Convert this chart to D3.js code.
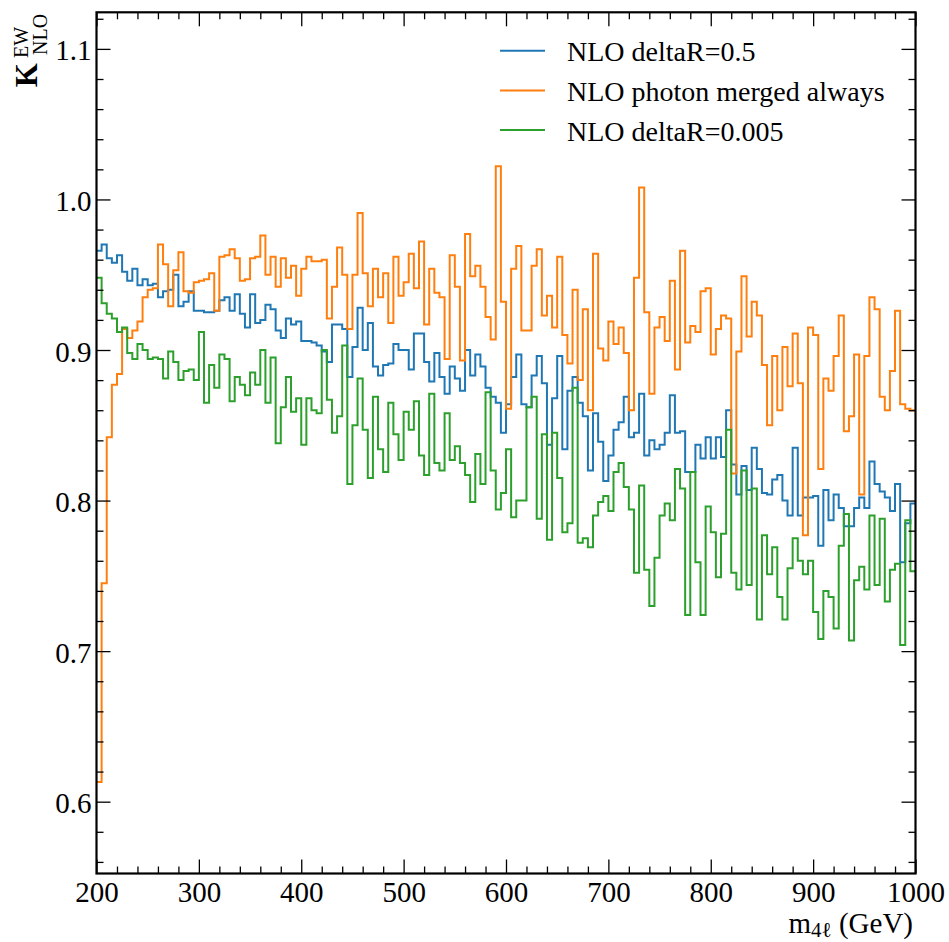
<!DOCTYPE html>
<html>
<head>
<meta charset="utf-8">
<script src="https://cdn.jsdelivr.net/npm/d3@7"></script>
<style>
  html, body { margin: 0; padding: 0; background: #fff; }
  svg { display: block; font-family: "Liberation Serif", "DejaVu Serif", serif; }
</style>
</head>
<body>
<svg id="chart" width="949" height="942"></svg>
<script>
// Binning: 160 bins of 5 GeV from 200 to 1000 GeV
const binStart = 200;
const binWidth = 5;

// K_NLO^EW per bin, NLO deltaR=0.5
const deltaR05 = [
  0.966, 0.970, 0.961, 0.958, 0.963, 0.952, 0.946, 0.954, 0.943, 0.947,
  0.943, 0.944, 0.935, 0.939, 0.940, 0.950, 0.929, 0.932, 0.939, 0.926,
  0.926, 0.925, 0.925, 0.926, 0.933, 0.935, 0.926, 0.937, 0.924, 0.915,
  0.937, 0.918, 0.920, 0.930, 0.927, 0.913, 0.908, 0.921, 0.917, 0.919,
  0.906, 0.906, 0.905, 0.903, 0.899, 0.892, 0.917, 0.917, 0.914, 0.882,
  0.902, 0.928, 0.900, 0.918, 0.889, 0.883, 0.890, 0.891, 0.904, 0.900,
  0.900, 0.887, 0.911, 0.911, 0.892, 0.879, 0.898, 0.882, 0.871, 0.889,
  0.881, 0.873, 0.900, 0.883, 0.897, 0.889, 0.875, 0.869, 0.865, 0.845,
  0.864, 0.882, 0.897, 0.864, 0.862, 0.883, 0.896, 0.878, 0.837, 0.868,
  0.896, 0.834, 0.873, 0.882, 0.865, 0.856, 0.820, 0.858, 0.839, 0.813,
  0.830, 0.847, 0.852, 0.869, 0.842, 0.845, 0.871, 0.830, 0.840, 0.834,
  0.837, 0.845, 0.870, 0.845, 0.846, 0.819, 0.819, 0.837, 0.828, 0.842,
  0.828, 0.842, 0.829, 0.860, 0.824, 0.804, 0.823, 0.807, 0.835, 0.821,
  0.805, 0.804, 0.814, 0.817, 0.800, 0.790, 0.835, 0.790, 0.802, 0.802,
  0.803, 0.770, 0.807, 0.787, 0.804, 0.795, 0.783, 0.783, 0.795, 0.802,
  0.795, 0.826, 0.811, 0.806, 0.802, 0.793, 0.811, 0.759, 0.785, 0.798
];

// K_NLO^EW per bin, NLO with the photon always merged
const photonMerged = [
  0.613, 0.745, 0.842, 0.877, 0.884, 0.914, 0.908, 0.913, 0.919, 0.935,
  0.940, 0.941, 0.970, 0.957, 0.929, 0.953, 0.965, 0.939, 0.938, 0.945,
  0.946, 0.947, 0.951, 0.926, 0.962, 0.963, 0.967, 0.961, 0.946, 0.947,
  0.961, 0.962, 0.976, 0.950, 0.962, 0.942, 0.961, 0.948, 0.956, 0.936,
  0.954, 0.962, 0.959, 0.959, 0.960, 0.921, 0.942, 0.968, 0.950, 0.914,
  0.950, 0.991, 0.951, 0.929, 0.954, 0.935, 0.951, 0.918, 0.962, 0.936,
  0.945, 0.964, 0.941, 0.972, 0.917, 0.954, 0.938, 0.935, 0.894, 0.963,
  0.942, 0.893, 0.977, 0.949, 0.956, 0.942, 0.922, 0.907, 1.022, 0.932,
  0.861, 0.954, 0.969, 0.913, 0.913, 0.956, 0.967, 0.923, 0.936, 0.915,
  0.962, 0.910, 0.891, 0.940, 0.880, 0.927, 0.860, 0.964, 0.901, 0.893,
  0.919, 0.904, 0.915, 0.898, 0.860, 0.948, 1.008, 0.925, 0.871, 0.915,
  0.922, 0.906, 0.946, 0.887, 0.966, 0.905, 0.916, 0.912, 0.939, 0.941,
  0.897, 0.914, 0.923, 0.921, 0.818, 0.899, 0.949, 0.909, 0.932, 0.923,
  0.890, 0.850, 0.896, 0.860, 0.902, 0.876, 0.911, 0.878, 0.777, 0.915,
  0.910, 0.821, 0.881, 0.873, 0.896, 0.923, 0.846, 0.856, 0.897, 0.804,
  0.896, 0.935, 0.927, 0.869, 0.860, 0.886, 0.926, 0.864, 0.861, 0.860
];

// K_NLO^EW per bin, NLO deltaR=0.005
const deltaR0005 = [
  0.948, 0.931, 0.924, 0.921, 0.912, 0.915, 0.898, 0.894, 0.904, 0.900,
  0.894, 0.895, 0.894, 0.881, 0.899, 0.892, 0.880, 0.886, 0.887, 0.880,
  0.912, 0.865, 0.890, 0.875, 0.897, 0.894, 0.866, 0.882, 0.877, 0.870,
  0.885, 0.877, 0.900, 0.865, 0.895, 0.838, 0.862, 0.882, 0.859, 0.868,
  0.837, 0.868, 0.860, 0.858, 0.900, 0.867, 0.845, 0.856, 0.903, 0.811,
  0.850, 0.881, 0.847, 0.815, 0.869, 0.834, 0.819, 0.865, 0.844, 0.827,
  0.859, 0.847, 0.866, 0.830, 0.817, 0.871, 0.825, 0.820, 0.858, 0.827,
  0.836, 0.825, 0.817, 0.799, 0.831, 0.811, 0.872, 0.820, 0.794, 0.805,
  0.834, 0.789, 0.800, 0.800, 0.862, 0.869, 0.788, 0.844, 0.774, 0.845,
  0.815, 0.779, 0.785, 0.875, 0.772, 0.775, 0.769, 0.790, 0.799, 0.803,
  0.793, 0.819, 0.825, 0.809, 0.794, 0.752, 0.810, 0.754, 0.730, 0.762,
  0.790, 0.798, 0.787, 0.821, 0.808, 0.724, 0.819, 0.759, 0.724, 0.796,
  0.779, 0.749, 0.778, 0.847, 0.752, 0.741, 0.820, 0.744, 0.808, 0.721,
  0.777, 0.751, 0.769, 0.736, 0.721, 0.755, 0.775, 0.760, 0.751, 0.760,
  0.726, 0.708, 0.740, 0.736, 0.715, 0.770, 0.791, 0.707, 0.747, 0.756,
  0.741, 0.790, 0.744, 0.788, 0.733, 0.754, 0.758, 0.704, 0.787, 0.753
];

const seriesLabels = ["NLO deltaR=0.5", "NLO photon merged always", "NLO deltaR=0.005"];
const seriesColors = ["#1f77b4", "#ff7f0e", "#2ca02c"];
const seriesValues = [deltaR05, photonMerged, deltaR0005];

const xTicks = [200, 300, 400, 500, 600, 700, 800, 900, 1000];
const yTicks = [0.6, 0.7, 0.8, 0.9, 1.0, 1.1];
const yTickLabels = ["0.6", "0.7", "0.8", "0.9", "1.0", "1.1"];

const svg = d3.select("#chart");
const plot = { left: 96.5, right: 915.5, top: 12.3, bottom: 873.5 };

const x = d3.scaleLinear().domain([200, 1000]).range([plot.left, plot.right]);
const y = d3.scaleLinear().domain([0.5523, 1.1243]).range([plot.bottom, plot.top]);

svg.append("defs").append("clipPath").attr("id", "plotclip")
  .append("rect")
  .attr("x", plot.left).attr("y", plot.top)
  .attr("width", plot.right - plot.left).attr("height", plot.bottom - plot.top);

// Step histograms
const stepLine = d3.line()
  .x(d => x(d[0]))
  .y(d => y(d[1]))
  .curve(d3.curveStepAfter);

const histGroup = svg.append("g").attr("clip-path", "url(#plotclip)");
seriesValues.forEach((vals, k) => {
  const pts = vals.map((v, i) => [binStart + i * binWidth, v]);
  pts.push([binStart + vals.length * binWidth, vals[vals.length - 1]]);
  histGroup.append("path")
    .datum(pts)
    .attr("d", stepLine)
    .attr("fill", "none")
    .attr("stroke", seriesColors[k])
    .attr("stroke-width", 2)
    .attr("stroke-linejoin", "miter");
});

// Axes with inward ticks on all four sides
const xMinor = d3.range(200, 1001, 20).filter(v => v % 100 !== 0);
const yMinor = d3.range(0.56, 1.121, 0.02).filter(v => Math.abs(Math.round(v * 10) - v * 10) > 1e-6);
const majorLen = 14, minorLen = 7;
const tickFont = 29;

const axisStyle = g => {
  g.select(".domain").remove();
  g.selectAll("line").attr("stroke", "#000").attr("stroke-width", 1.3);
};

svg.append("g").attr("transform", `translate(0,${plot.bottom})`)
  .call(d3.axisBottom(x).tickValues(xTicks).tickSize(-majorLen).tickPadding(8).tickFormat(d3.format("d")))
  .call(axisStyle)
  .call(g => g.selectAll("text").attr("font-size", tickFont).attr("fill", "#000")
    .attr("font-family", "Liberation Serif, DejaVu Serif, serif"));
svg.append("g").attr("transform", `translate(0,${plot.bottom})`)
  .call(d3.axisBottom(x).tickValues(xMinor).tickSize(-minorLen).tickFormat(""))
  .call(axisStyle);
svg.append("g").attr("transform", `translate(0,${plot.top})`)
  .call(d3.axisTop(x).tickValues(xTicks).tickSize(-majorLen).tickFormat(""))
  .call(axisStyle);
svg.append("g").attr("transform", `translate(0,${plot.top})`)
  .call(d3.axisTop(x).tickValues(xMinor).tickSize(-minorLen).tickFormat(""))
  .call(axisStyle);

svg.append("g").attr("transform", `translate(${plot.left},0)`)
  .call(d3.axisLeft(y).tickValues(yTicks).tickSize(-majorLen).tickPadding(5)
    .tickFormat((d, i) => yTickLabels[i]))
  .call(axisStyle)
  .call(g => g.selectAll("text").attr("font-size", tickFont).attr("fill", "#000").attr("dy", "0.38em")
    .attr("font-family", "Liberation Serif, DejaVu Serif, serif"));
svg.append("g").attr("transform", `translate(${plot.left},0)`)
  .call(d3.axisLeft(y).tickValues(yMinor).tickSize(-minorLen).tickFormat(""))
  .call(axisStyle);
svg.append("g").attr("transform", `translate(${plot.right},0)`)
  .call(d3.axisRight(y).tickValues(yTicks).tickSize(-majorLen).tickFormat(""))
  .call(axisStyle);
svg.append("g").attr("transform", `translate(${plot.right},0)`)
  .call(d3.axisRight(y).tickValues(yMinor).tickSize(-minorLen).tickFormat(""))
  .call(axisStyle);

// Frame
svg.append("rect")
  .attr("x", plot.left).attr("y", plot.top)
  .attr("width", plot.right - plot.left).attr("height", plot.bottom - plot.top)
  .attr("fill", "none").attr("stroke", "#000").attr("stroke-width", 2.2);

// Legend
const legend = svg.append("g");
seriesLabels.forEach((label, k) => {
  const ly = 50.7 + k * 39.7;
  legend.append("line")
    .attr("x1", 500).attr("x2", 545).attr("y1", ly).attr("y2", ly)
    .attr("stroke", seriesColors[k]).attr("stroke-width", 2);
  legend.append("text")
    .attr("x", 567).attr("y", ly + 10.5)
    .attr("font-size", 28).attr("fill", "#000")
    .text(label);
});

// Y-axis title: K^{EW}_{NLO}
const ylab = svg.append("g").attr("transform", "translate(37,12) rotate(-90)");
ylab.append("text").attr("x", -51).attr("y", 0).attr("text-anchor", "end")
  .attr("font-size", 31).attr("font-weight", "bold").text("K");
ylab.append("text").attr("x", -46).attr("y", -9).attr("text-anchor", "start")
  .attr("font-size", 20).text("EW");
ylab.append("text").attr("x", -43).attr("y", 10).attr("text-anchor", "start")
  .attr("font-size", 20).text("NLO");

// X-axis title: m_{4ℓ} (GeV)
const xlab = svg.append("text").attr("text-anchor", "end")
  .attr("x", 913).attr("y", 933).attr("font-size", 29);
xlab.append("tspan").text("m");
xlab.append("tspan").attr("font-size", 21).attr("dy", 4).text("4ℓ");
xlab.append("tspan").attr("dy", -4).text(" (GeV)");
</script>
</body>
</html>
